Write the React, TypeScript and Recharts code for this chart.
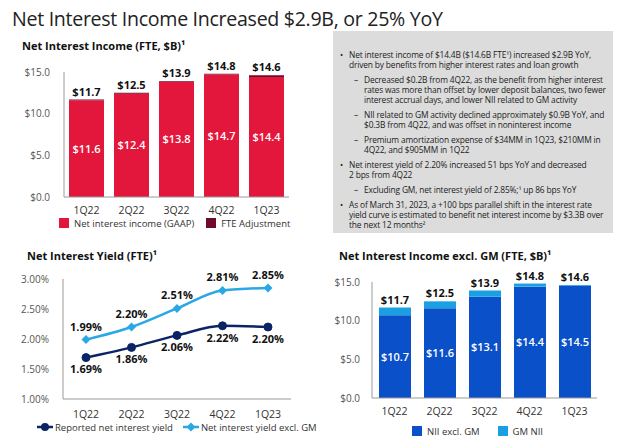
import React from "react";
import { Bar, BarChart, LabelList, Line, LineChart, XAxis, YAxis } from "recharts";

const quarters = ["1Q22", "2Q22", "3Q22", "4Q22", "1Q23"];
const niiGaap = [11.6, 12.4, 13.8, 14.7, 14.4];
const fteAdj = [0.1, 0.1, 0.1, 0.1, 0.2];
const reportedYield = [1.69, 1.86, 2.06, 2.22, 2.2];
const yieldExGm = [1.99, 2.2, 2.51, 2.81, 2.85];
const niiExGm = [10.7, 11.6, 13.1, 14.4, 14.5];
const gmNii = [1.0, 0.9, 0.8, 0.4, 0.1];
const dollarTicks = [0, 5, 10, 15];
const yieldTicks = [1, 1.5, 2, 2.5, 3];

const FONT = "'Open Sans', 'Noto Sans', sans-serif";
const RED = "#e3173b";
const MAROON = "#6f0a2c";
const BLUE = "#0a50c8";
const SKY = "#1a9fe3";
const NAVY = "#0b2466";
const LIGHTLINE = "#2aa8e6";
const AXIS = "#9a9a9a";

const niiData = quarters.map((q, i) => ({
  q,
  gaap: niiGaap[i],
  fte: fteAdj[i],
  total: niiGaap[i] + fteAdj[i],
}));
const yieldData = quarters.map((q, i) => ({ q, reported: reportedYield[i], exGm: yieldExGm[i] }));
const exGmData = quarters.map((q, i) => ({
  q,
  core: niiExGm[i],
  gm: gmNii[i],
  total: niiExGm[i] + gmNii[i],
}));

const money = (v: any) => "$" + Number(v).toFixed(1);
const pct = (v: any) => Number(v).toFixed(2) + "%";

const tickStyle = { fontSize: 10, fill: "#555", fontFamily: FONT };
const catStyle = { fontSize: 10.5, fill: "#333", fontFamily: FONT };
const topLabel = { fontSize: 11, fontWeight: 700, fill: "#111", fontFamily: FONT };
const innerLabel = { fontSize: 11, fontWeight: 600, fill: "#fff", fontFamily: FONT };

function Diamond(props: any) {
  const { cx, cy, index } = props;
  if (cx == null || cy == null) return <g key={index} />;
  const r = 4.5;
  return (
    <path
      key={index}
      d={`M${cx},${cy - r}L${cx + r},${cy}L${cx},${cy + r}L${cx - r},${cy}Z`}
      fill={LIGHTLINE}
    />
  );
}

const sq = (c: string) => ({
  display: "inline-block",
  width: 10,
  height: 10,
  background: c,
  marginRight: 5,
  verticalAlign: "-1px",
});

const chartTitle: React.CSSProperties = {
  position: "absolute",
  fontSize: 11,
  fontWeight: 700,
  color: "#111",
  whiteSpace: "nowrap",
};

const lines: { kind: "b" | "d"; text: string[] }[] = [
  {
    kind: "b",
    text: [
      "Net interest income of $14.4B ($14.6B FTE¹) increased $2.9B YoY,",
      "driven by benefits from higher interest rates and loan growth",
    ],
  },
  {
    kind: "d",
    text: [
      "Decreased $0.2B from 4Q22, as the benefit from higher interest",
      "rates was more than offset by lower deposit balances, two fewer",
      "interest accrual days, and lower NII related to GM activity",
    ],
  },
  {
    kind: "d",
    text: [
      "NII related to GM activity declined approximately $0.9B YoY, and",
      "$0.3B from 4Q22, and was offset in noninterest income",
    ],
  },
  {
    kind: "d",
    text: [
      "Premium amortization expense of $34MM in 1Q23, $210MM in",
      "4Q22, and $905MM in 1Q22",
    ],
  },
  {
    kind: "b",
    text: [
      "Net interest yield of 2.20% increased 51 bps YoY and decreased",
      "2 bps from 4Q22",
    ],
  },
  { kind: "d", text: ["Excluding GM, net interest yield of 2.85%;¹ up 86 bps YoY"] },
  {
    kind: "b",
    text: [
      "As of March 31, 2023, a +100 bps parallel shift in the interest rate",
      "yield curve is estimated to benefit net interest income by $3.3B over",
      "the next 12 months²",
    ],
  },
];

export default function App() {
  return (
    <div
      style={{
        position: "fixed",
        left: 0,
        top: 0,
        width: 640,
        height: 439,
        background: "#fff",
        fontFamily: FONT,
        overflow: "hidden",
      }}
    >
      <div
        style={{
          position: "absolute",
          left: 12,
          top: 5,
          fontSize: 19.6,
          color: "#222",
          whiteSpace: "nowrap",
          letterSpacing: -0.3,
        }}
      >
        Net Interest Income Increased $2.9B, or 25% YoY
      </div>

      {/* top-left: NII */}
      <div style={{ ...chartTitle, left: 22, top: 38 }}>Net Interest Income (FTE, $B)¹</div>
      <div style={{ position: "absolute", left: 0, top: 50 }}>
        <BarChart width={300} height={190} data={niiData} margin={{ top: 22, right: 11, left: 0, bottom: 23 }}>
          <XAxis dataKey="q" tickLine={false} stroke={AXIS} tick={catStyle} tickMargin={4} height={20} />
          <YAxis
            width={64}
            domain={[0, 15]}
            ticks={dollarTicks}
            tickFormatter={money}
            tickLine={false}
            stroke={AXIS}
            tick={tickStyle}
            tickMargin={8}
          />
          <Bar dataKey="gaap" stackId="a" fill={RED} barSize={35} isAnimationActive={false}>
            <LabelList dataKey="gaap" position="center" formatter={money} style={innerLabel} />
          </Bar>
          <Bar dataKey="fte" stackId="a" fill={MAROON} barSize={35} isAnimationActive={false}>
            <LabelList dataKey="total" position="top" offset={4} formatter={money} style={topLabel} />
          </Bar>
        </BarChart>
      </div>
      <div style={{ position: "absolute", left: 59, top: 217, fontSize: 9.5, color: "#333", whiteSpace: "nowrap" }}>
        <span style={sq(RED)} />
        Net interest income (GAAP)
        <span style={{ ...sq(MAROON), marginLeft: 12 }} />
        FTE Adjustment
      </div>

      {/* top-right: commentary */}
      <div
        style={{
          position: "absolute",
          left: 333,
          top: 31,
          width: 280,
          height: 202,
          background: "#dcdcdc",
        }}
      >
        <div style={{ position: "absolute", left: 0, top: 19 }}>
          {lines.map((blk, i) => (
            <div
              key={i}
              style={{
                position: "relative",
                paddingLeft: blk.kind === "b" ? 16 : 31,
                marginBottom: 5.2,
                fontSize: 8.4,
                lineHeight: "9.9px",
                color: "#222",
                whiteSpace: "nowrap",
                letterSpacing: -0.15,
              }}
            >
              <span style={{ position: "absolute", left: blk.kind === "b" ? 7 : 21 }}>
                {blk.kind === "b" ? "•" : "–"}
              </span>
              {blk.text.map((t, j) => (
                <div key={j}>{t}</div>
              ))}
            </div>
          ))}
        </div>
      </div>

      {/* bottom-left: yield */}
      <div style={{ ...chartTitle, left: 27, top: 248 }}>Net Interest Yield (FTE)¹</div>
      <div style={{ position: "absolute", left: 0, top: 260 }}>
        <LineChart width={300} height={168} data={yieldData} margin={{ top: 19, right: 9, left: 0, bottom: 9 }}>
          <XAxis
            dataKey="q"
            tickLine={false}
            stroke={AXIS}
            tick={catStyle}
            tickMargin={6}
            height={20}
            padding={{ left: 23, right: 23 }}
          />
          <YAxis
            width={63}
            domain={[1, 3]}
            ticks={yieldTicks}
            tickFormatter={(v: any) => Number(v).toFixed(2) + "%"}
            tickLine={false}
            stroke={AXIS}
            tick={tickStyle}
            tickMargin={8}
          />
          <Line
            type="monotone"
            dataKey="reported"
            stroke={NAVY}
            strokeWidth={2.5}
            dot={{ r: 4, fill: NAVY, stroke: NAVY, strokeWidth: 1 }}
            isAnimationActive={false}
          >
            <LabelList dataKey="reported" position="bottom" offset={8} formatter={pct} style={topLabel} />
          </Line>
          <Line
            type="monotone"
            dataKey="exGm"
            stroke={LIGHTLINE}
            strokeWidth={2.5}
            dot={<Diamond />}
            isAnimationActive={false}
          >
            <LabelList dataKey="exGm" position="top" offset={9} formatter={pct} style={topLabel} />
          </Line>
        </LineChart>
      </div>
      <div style={{ position: "absolute", left: 37, top: 421, fontSize: 9.5, color: "#333", whiteSpace: "nowrap" }}>
        <svg width={16} height={10} style={{ verticalAlign: "-1px", marginRight: 2 }}>
          <line x1={0} y1={5} x2={16} y2={5} stroke={NAVY} strokeWidth={2.5} />
          <circle cx={8} cy={5} r={4} fill={NAVY} />
        </svg>
        Reported net interest yield
        <svg width={16} height={10} style={{ verticalAlign: "-1px", marginLeft: 10, marginRight: 2 }}>
          <line x1={0} y1={5} x2={16} y2={5} stroke={LIGHTLINE} strokeWidth={2.5} />
          <path d="M8,0.5L12.5,5L8,9.5L3.5,5Z" fill={LIGHTLINE} />
        </svg>
        Net interest yield excl. GM
      </div>

      {/* bottom-right: NII excl GM */}
      <div style={{ ...chartTitle, left: 339, top: 248 }}>Net Interest Income excl. GM (FTE, $B)¹</div>
      <div style={{ position: "absolute", left: 320, top: 260 }}>
        <BarChart width={300} height={175} data={exGmData} margin={{ top: 22, right: 23, left: 0, bottom: 17 }}>
          <XAxis dataKey="q" tickLine={false} stroke={AXIS} tick={catStyle} tickMargin={4} height={20} />
          <YAxis
            width={52}
            domain={[0, 15]}
            ticks={dollarTicks}
            tickFormatter={money}
            tickLine={false}
            stroke={AXIS}
            tick={tickStyle}
            tickMargin={6}
          />
          <Bar dataKey="core" stackId="a" fill={BLUE} barSize={32} isAnimationActive={false}>
            <LabelList dataKey="core" position="center" formatter={money} style={innerLabel} />
          </Bar>
          <Bar dataKey="gm" stackId="a" fill={SKY} barSize={32} isAnimationActive={false}>
            <LabelList dataKey="total" position="top" offset={4} formatter={money} style={topLabel} />
          </Bar>
        </BarChart>
      </div>
      <div style={{ position: "absolute", left: 412, top: 425, fontSize: 9.5, color: "#333", whiteSpace: "nowrap" }}>
        <span style={sq(BLUE)} />
        NII excl. GM
        <span style={{ ...sq(SKY), marginLeft: 18 }} />
        GM NII
      </div>
    </div>
  );
}
